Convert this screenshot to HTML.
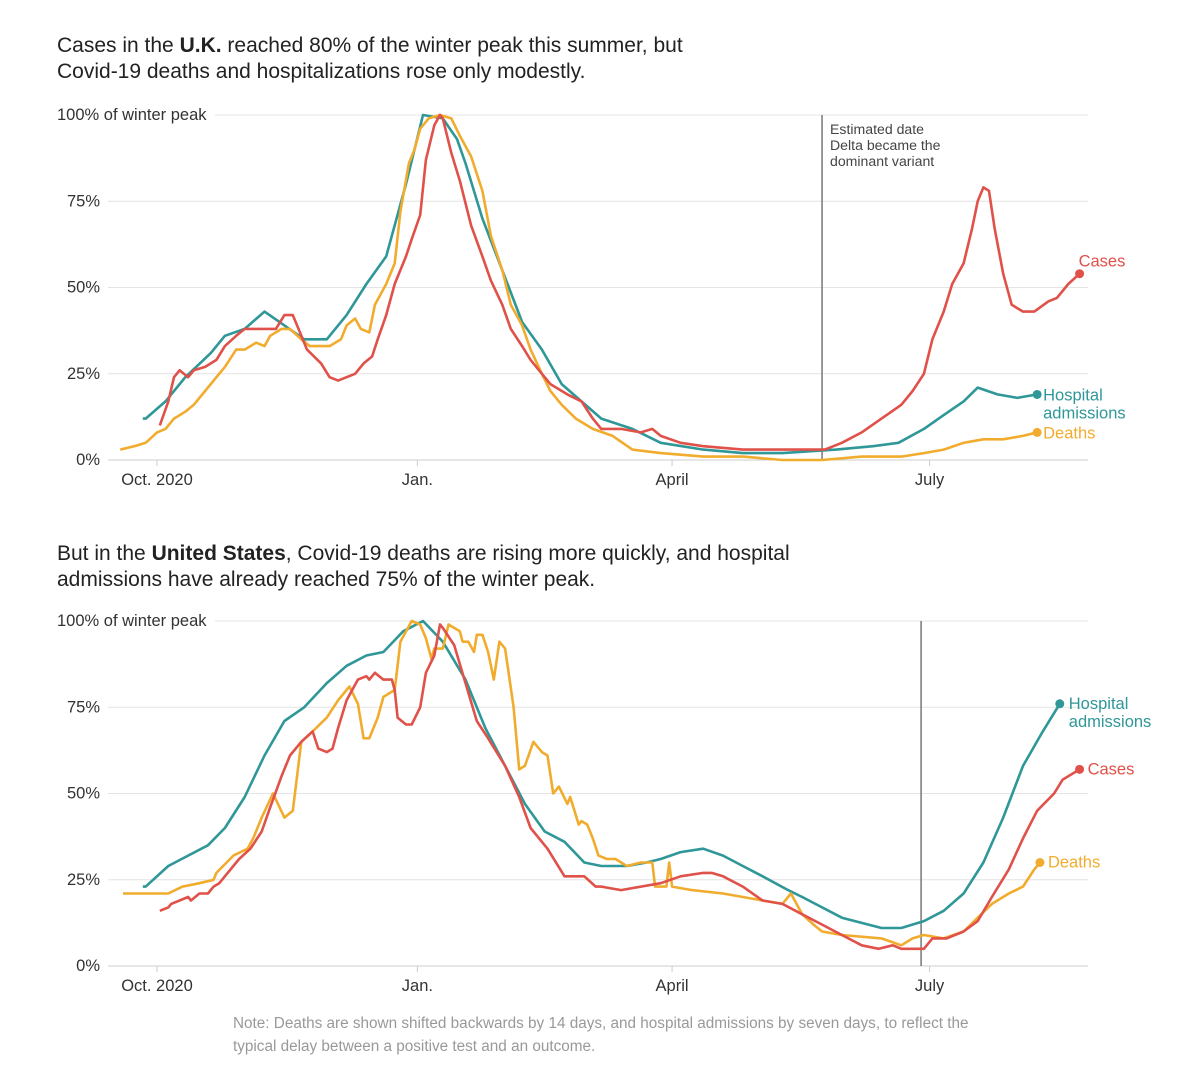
<!DOCTYPE html>
<html><head><meta charset="utf-8"><style>
body{margin:0;background:#fff;font-family:"Liberation Sans",sans-serif;}
svg{display:block}
</style></head><body>
<svg id="c" width="1200" height="1081">
<text x="57" y="52" font-size="21" fill="#222">Cases in the <tspan font-weight="bold">U.K.</tspan> reached 80% of the winter peak this summer, but</text>
<text x="57" y="78" font-size="21" fill="#222">Covid-19 deaths and hospitalizations rose only modestly.</text>
<text x="57" y="560" font-size="21" fill="#222">But in the <tspan font-weight="bold">United States</tspan>, Covid-19 deaths are rising more quickly, and hospital</text>
<text x="57" y="586" font-size="21" fill="#222">admissions have already reached 75% of the winter peak.</text>
<text x="233" y="1028" font-size="15.3" fill="#999">Note: Deaths are shown shifted backwards by 14 days, and hospital admissions by seven days, to reflect the</text>
<text x="233" y="1051" font-size="15.3" fill="#999">typical delay between a positive test and an outcome.</text>
</svg>
<script>
// Day index from Oct 1 2020; values in % of winter peak
const ukCasesDays=[1,4,6,8,11,13,17,21,24,28,31,35,38,42,45,48,50,53,58,61,64,67,70,73,76,78,81,84,88,90,93,95,98,100,101,104,107,111,115,118,122,125,129,132,136,139,145,150,154,157,164,171,175,178,185,193,207,221,228,236,242,249,256,263,267,271,274,278,281,285,288,290,292,294,296,299,302,306,310,315,318,322,326];
const ukCasesVals=[10,17,24,26,24,26,27,29,33,36,38,38,38,38,42,42,38,32,28,24,23,24,25,28,30,35,42,51,59,64,71,87,97,100,99,89,81,68,59,52,45,38,33,29,25,22,19,17,12,9,9,8,9,7,5,4,3,3,3,3,5,8,12,16,20,25,35,43,51,57,67,75,79,78,67,54,45,43,43,46,47,51,54];
const ukHospDays=[-5,-4,3,10,19,24,31,38,45,52,60,67,74,81,88,94,101,106,109,115,122,129,136,143,150,157,168,178,193,207,221,240,253,262,271,278,285,290,297,304,311];
const ukHospVals=[12,12,17,24,31,36,38,43,39,35,35,42,51,59,80,100,99,93,86,70,55,40,32,22,17,12,9,5,3,2,2,3,4,5,9,13,17,21,19,18,19];
const ukDeathDays=[-13,-8,-4,0,3,6,10,13,17,21,24,28,31,35,38,40,44,47,51,54,58,61,65,67,70,72,75,77,81,84,86,89,91,93,96,100,104,107,111,115,118,122,125,129,132,136,139,143,148,154,161,168,178,193,207,221,235,249,263,271,278,285,292,299,306,311];
const ukDeathVals=[3,4,5,8,9,12,14,16,20,24,27,32,32,34,33,36,38,38,35,33,33,33,35,39,41,38,37,45,51,57,72,86,90,96,99,100,99,94,88,78,65,55,45,39,32,25,20,16,12,9,7,3,2,1,1,0,0,1,1,2,3,5,6,6,7,8];
const usHospDays=[-5,-4,4,11,18,24,31,38,45,52,60,67,74,80,87,94,101,109,116,123,130,137,144,151,157,166,173,178,185,193,200,207,214,223,228,235,242,256,263,271,278,285,292,299,306,313,319];
const usHospVals=[23,23,29,32,35,40,49,61,71,75,82,87,90,91,97,100,94,83,69,58,47,39,36,30,29,29,30,31,33,34,32,29,26,22,20,17,14,11,11,13,16,21,30,43,58,68,76];
const usCasesDays=[1,4,5,11,12,15,18,20,22,24,29,33,37,40,44,47,51,55,57,60,62,64,67,71,74,75,77,80,83,84,85,88,90,93,95,98,100,101,105,109,113,117,123,128,132,138,144,148,151,155,157,164,171,178,185,193,196,200,207,214,221,228,235,242,249,255,260,263,271,274,279,285,290,295,301,306,311,317,320,326];
const usCasesVals=[16,17,18,20,19,21,21,23,24,26,31,34,39,46,55,61,65,68,63,62,63,69,77,83,84,83,85,83,83,80,72,70,70,75,85,90,99,98,93,82,71,66,58,49,40,34,26,26,26,23,23,22,23,24,26,27,27,26,23,19,18,15,12,9,6,5,6,5,5,8,8,10,13,20,28,37,45,50,54,57];
const usDeathDays=[-12,4,9,15,20,21,27,32,34,37,41,45,48,51,55,60,64,68,71,73,75,78,80,84,86,90,93,95,97,98,101,103,107,108,110,112,113,115,117,119,121,123,126,128,130,133,136,138,140,142,145,146,149,150,152,154,156,159,162,166,171,175,176,180,181,182,189,200,207,214,221,224,228,232,235,242,256,263,267,271,278,285,290,295,301,306,310,312];
const usDeathVals=[21,21,23,24,25,27,32,34,37,43,50,43,45,65,68,72,77,81,76,66,66,72,78,80,94,100,99,95,89,92,92,99,97,94,94,91,96,96,91,83,94,92,75,57,58,65,62,61,50,52,47,49,41,42,41,37,32,31,31,29,30,30,23,23,30,23,22,21,20,19,18,21,15,12,10,9,8,6,8,9,8,10,14,18,21,23,28,30];

const NS='http://www.w3.org/2000/svg';
const svg=document.getElementById('c');
const C={cases:'#e0514a',hosp:'#2f9798',deaths:'#f1ac2e'};
function el(tag,attrs,parent){const e=document.createElementNS(NS,tag);for(const k in attrs)e.setAttribute(k,attrs[k]);(parent||svg).appendChild(e);return e;}
const xS=d=>157+d*2.83;

function chart(top,prefix,delta,series,labels){
  const y0=top+345, yS=v=>y0-v*3.45;
  const g=el('g',{});
  
  
  const ticks=[0,25,50,75,100], tl=['0%','25%','50%','75%','100% of winter peak'];
  ticks.forEach((t,i)=>{
    const ln=el('line',{x1:i==4?215:108,x2:1088,y1:yS(t),y2:yS(t),stroke:i==0?'#ccc':'#e4e4e4','stroke-width':1},g);
    
    
    const tx=el('text',{x:i==4?57:100,y:yS(t)+5,'font-size':16.5,fill:'#333','text-anchor':i==4?'start':'end'},g);
    tx.textContent=tl[i];
    
    
  });
  const xd=[0,92,182,273], xl=['Oct. 2020','Jan.','April','July'];
  xd.forEach((d,i)=>{
    const tk=el('line',{x1:xS(d),x2:xS(d),y1:y0,y2:y0+6,stroke:'#ccc'},g);
    
    
    const tx=el('text',{x:xS(d),y:y0+25,'font-size':16.5,fill:'#333','text-anchor':'middle'},g);
    tx.textContent=xl[i];
    
    
  });
  const dl=el('line',{x1:xS(delta),x2:xS(delta),y1:yS(100),y2:y0,stroke:'#777','stroke-width':1.5},g);
  
  
  series.forEach(s=>{
    const p=el('path',{d:s.d.map((d,i)=>(i?'L':'M')+xS(d).toFixed(1)+','+yS(s.v[i]).toFixed(1)).join(''),fill:'none',stroke:C[s.k],'stroke-width':2.6,'stroke-linejoin':'round'},g);
    
    
    const n=s.d.length-1;
    const c=el('circle',{cx:xS(s.d[n]),cy:yS(s.v[n]),r:4.5,fill:C[s.k]},g);
    
    
    const lb=labels[s.k];
    const t=el('text',{x:xS(s.d[n])+lb[0],y:yS(s.v[n])+lb[1],'font-size':16.5,fill:C[s.k]},g);
    lb[2].forEach((line,i)=>{const ts=el('tspan',{x:xS(s.d[n])+lb[0],dy:i?18:0},t);ts.textContent=line;});
    
    
  });
  return g;
}
const uk=chart(115,'uk',235,[
  {k:'hosp',d:ukHospDays,v:ukHospVals},
  {k:'deaths',d:ukDeathDays,v:ukDeathVals},
  {k:'cases',d:ukCasesDays,v:ukCasesVals}],
  {cases:[-1,-7,['Cases']],hosp:[6,6,['Hospital','admissions']],deaths:[6,6,['Deaths']]});
const us=chart(621,'us',270,[
  {k:'hosp',d:usHospDays,v:usHospVals},
  {k:'deaths',d:usDeathDays,v:usDeathVals},
  {k:'cases',d:usCasesDays,v:usCasesVals}],
  {cases:[8,5,['Cases']],hosp:[9,5,['Hospital','admissions']],deaths:[8,5,['Deaths']]});
const a=el('text',{x:830,y:134,'font-size':14.1,fill:'#444'});
['Estimated date','Delta became the','dominant variant'].forEach((s,i)=>{const ts=el('tspan',{x:830,dy:i?16:0},a);ts.textContent=s;});


</script>
</body></html>
